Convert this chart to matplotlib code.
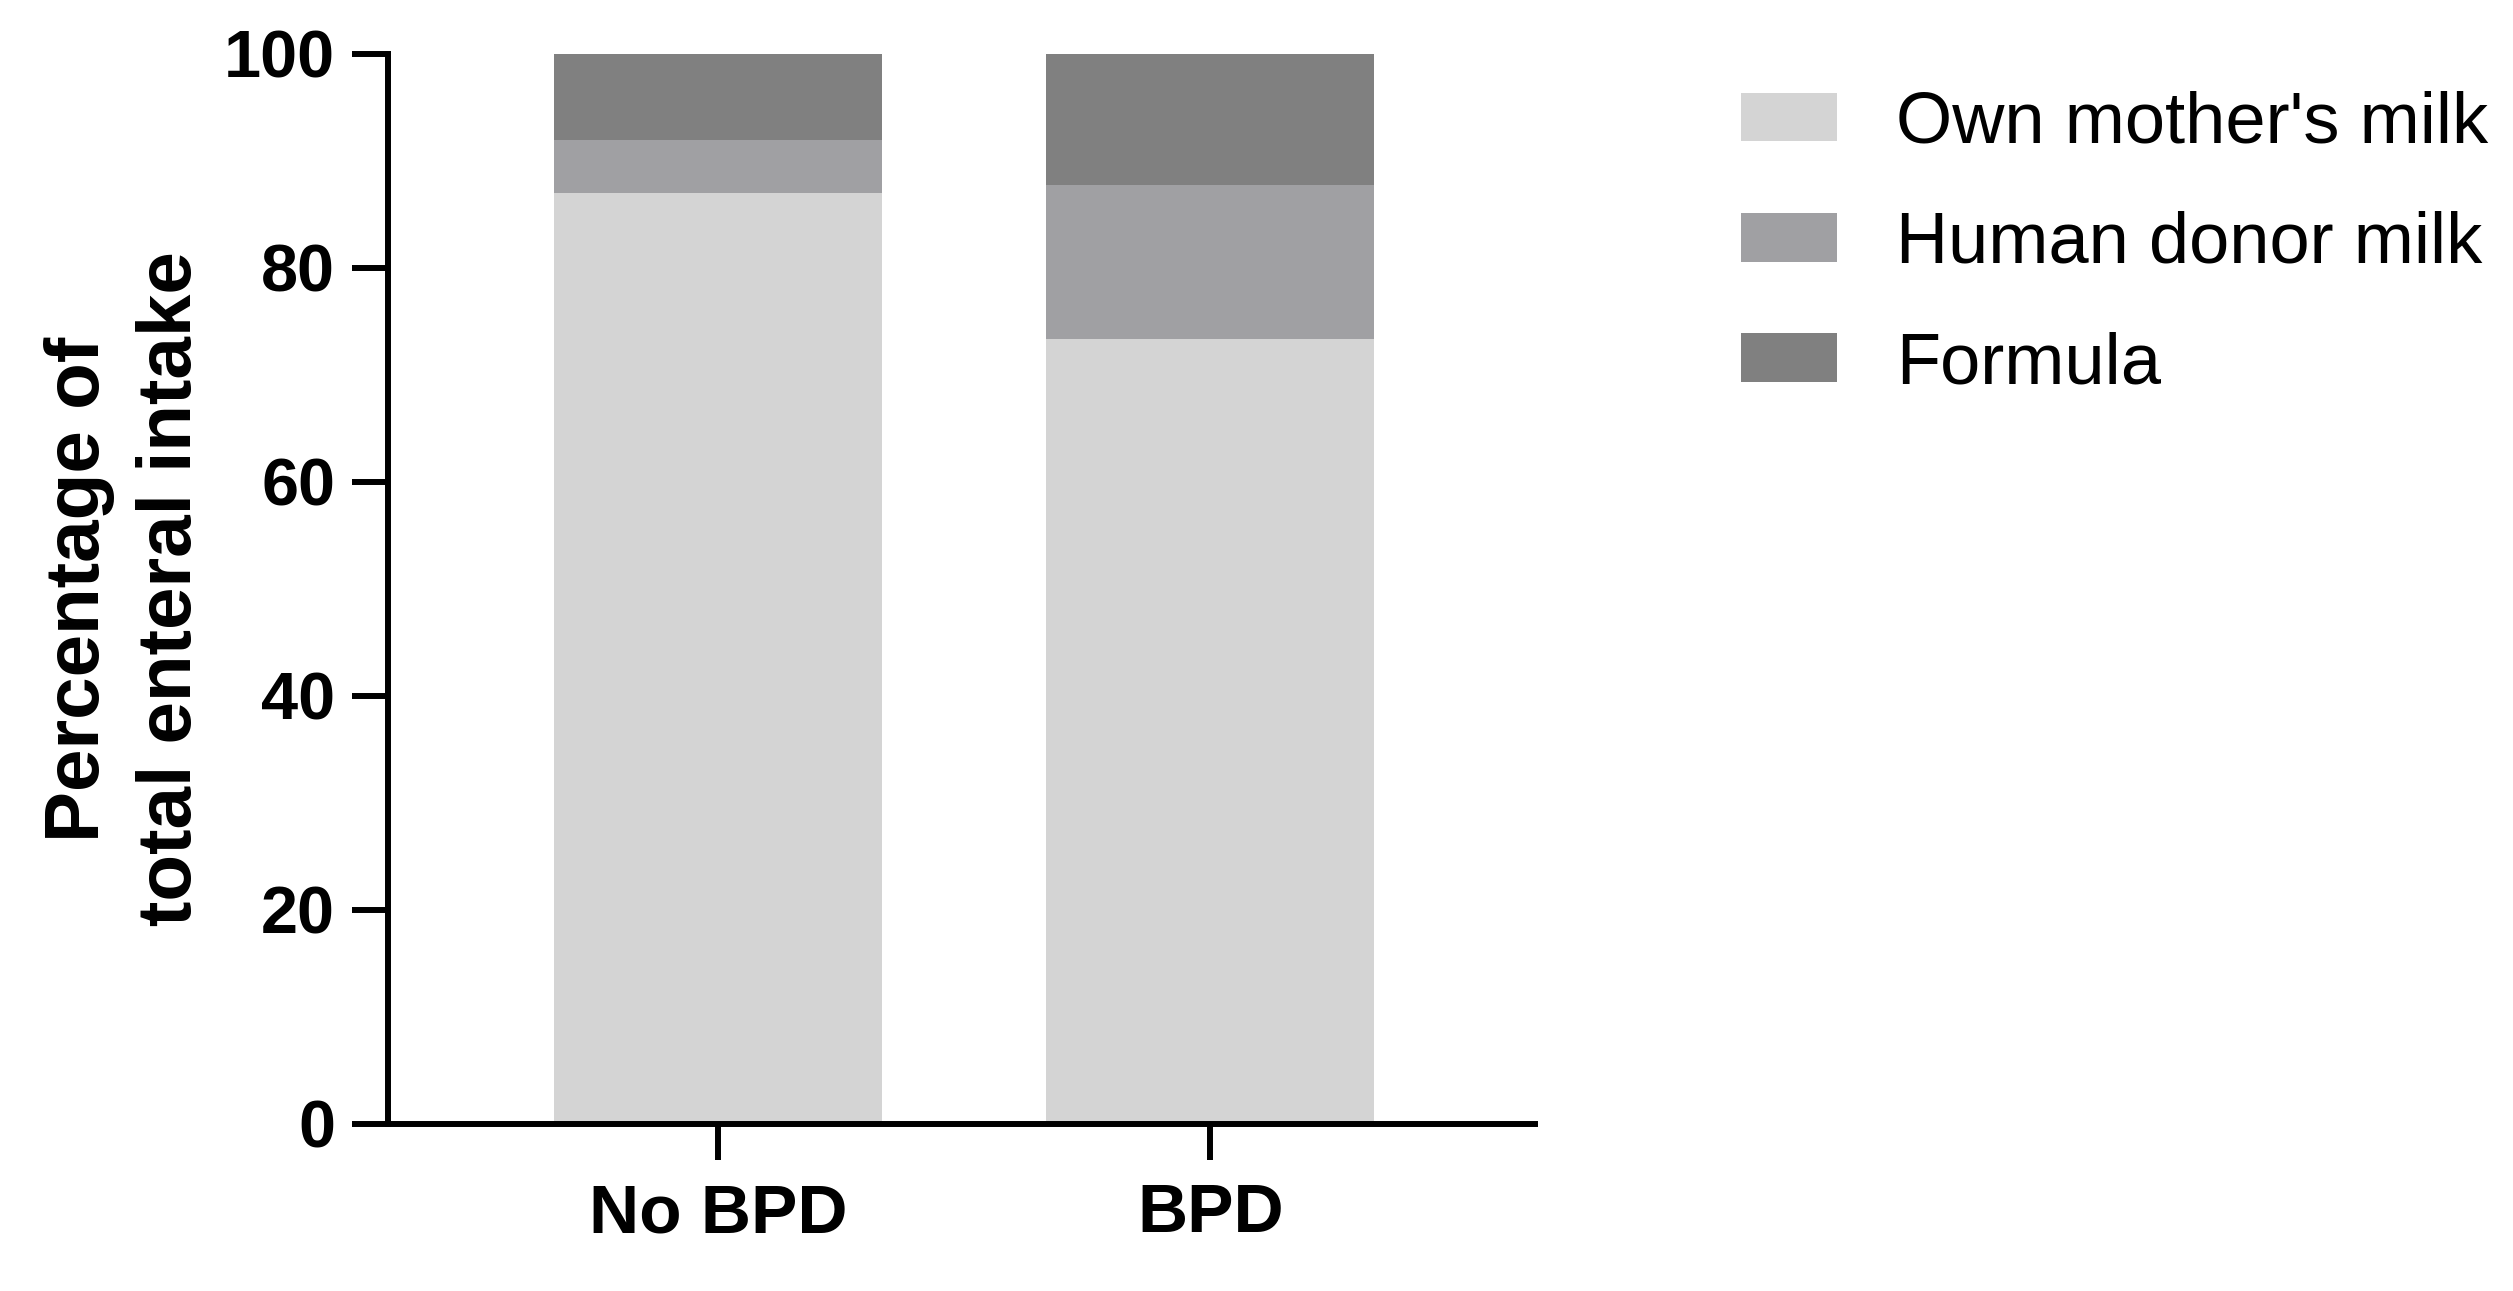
import matplotlib
matplotlib.use("Agg")
import matplotlib.pyplot as plt

groups = ["No BPD", "BPD"]
series = ["Own mother's milk", "Human donor milk", "Formula"]
own_milk = [87.0, 73.4]
donor_milk = [5.0, 14.4]
formula = [8.0, 12.2]
colors = ["#d4d4d4", "#a0a0a3", "#808080"]
yticks = [0, 20, 40, 60, 80, 100]

plt.rcParams["font.family"] = ["Liberation Sans", "DejaVu Sans"]

fig = plt.figure(figsize=(25.13, 12.91), dpi=100)
ax = fig.add_axes([0.1544, 0.1294, 0.4564, 0.8288])

x = list(range(len(groups)))
bottom = [0.0] * len(groups)
for vals, name, c in zip([own_milk, donor_milk, formula], series, colors):
    ax.bar(x, vals, width=0.666, bottom=bottom, color=c, label=name, linewidth=0)
    bottom = [b + v for b, v in zip(bottom, vals)]

ax.set_xlim(-0.670, 1.659)
ax.set_ylim(0, 100)
ax.spines[["top", "right"]].set_visible(False)
for s in ("left", "bottom"):
    ax.spines[s].set_linewidth(4.3)

ax.set_yticks(yticks)
ax.set_xticks(x)
ax.set_xticklabels(groups)
ax.tick_params(axis="both", length=26, width=4.3, color="black")
ax.tick_params(axis="y", labelsize=48, pad=12)
ax.tick_params(axis="x", labelsize=50, pad=16)
for lab in ax.get_xticklabels() + ax.get_yticklabels():
    lab.set_fontweight("bold")

ax.set_ylabel("Percentage of\ntotal enteral intake", fontsize=55,
              fontweight="bold", linespacing=1.38)
ax.yaxis.set_label_coords(-0.158, 0.5)

ax.legend(loc="upper left", bbox_to_anchor=(1741 / 2513, 0.930),
          bbox_transform=fig.transFigure, frameon=False, fontsize=52,
          handlelength=1.33, handleheight=0.665, handletextpad=0.82,
          labelspacing=0.74, borderpad=0, borderaxespad=0)

fig.savefig("out.png", dpi=100)
